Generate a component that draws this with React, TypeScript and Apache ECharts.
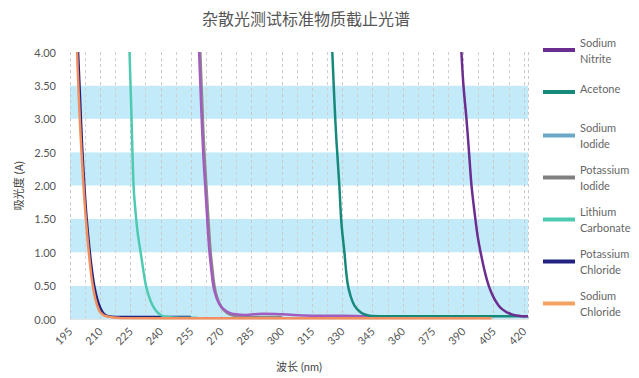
import React, { useEffect, useRef } from "react";
import * as echarts from "echarts";

const TITLE = "杂散光测试标准物质截止光谱";
const X_NAME = "波长 (nm)";
const Y_NAME = "吸光度 (A)";

const seriesNames = [
  "Sodium Nitrite",
  "Acetone",
  "Sodium Iodide",
  "Potassium Iodide",
  "Lithium Carbonate",
  "Potassium Chloride",
  "Sodium Chloride",
];

// wavelengths (nm) and absorbance (A) per series
const nitriteX = [389, 390, 391.5, 393, 394, 395.5, 397, 398.5, 400.5, 402.5, 405, 407.5, 409.5, 411.5, 414, 417, 420, 422];
const nitriteY = [4.0, 3.5, 3.0, 2.4, 2.0, 1.6, 1.25, 1.0, 0.72, 0.5, 0.32, 0.2, 0.14, 0.1, 0.07, 0.05, 0.04, 0.04];

const acetoneX = [325, 326, 327, 328.5, 329.5, 331, 332.5, 334, 336, 339, 342, 345, 360, 400, 422];
const acetoneY = [4.0, 3.3, 2.7, 2.0, 1.45, 1.0, 0.55, 0.35, 0.2, 0.1, 0.06, 0.045, 0.04, 0.04, 0.04];

const naIodideX = [259, 260, 261, 262, 263, 264, 265, 266, 267, 268, 269.5, 271, 273.5, 277, 282, 290, 300, 315, 330, 345];
const naIodideY = [4.0, 3.2, 2.5, 2.0, 1.5, 1.05, 0.75, 0.5, 0.38, 0.29, 0.2, 0.15, 0.1, 0.07, 0.06, 0.08, 0.07, 0.05, 0.05, 0.04];

const kIodideX = [259.6, 260.6, 261.6, 262.6, 263.6, 264.6, 265.6, 266.6, 267.6, 269, 271, 274, 280, 300];
const kIodideY = [4.0, 3.2, 2.5, 2.0, 1.5, 1.05, 0.75, 0.5, 0.36, 0.24, 0.14, 0.07, 0.03, 0.03];

const lithiumX = [224.5, 225.5, 226.5, 227.5, 228.5, 230, 231, 232.5, 234, 236, 238, 240, 243, 250, 258];
const lithiumY = [4.0, 3.0, 2.0, 1.6, 1.3, 1.0, 0.8, 0.52, 0.35, 0.2, 0.11, 0.06, 0.03, 0.02, 0.02];

const kChlorideX = [199, 200, 201, 202, 203, 204, 205, 206, 207, 208, 209, 210, 211, 212, 214, 218, 230, 255];
const kChlorideY = [4.0, 3.3, 2.6, 2.05, 1.6, 1.25, 0.95, 0.7, 0.5, 0.36, 0.25, 0.17, 0.11, 0.07, 0.04, 0.03, 0.03, 0.03];

const naChlorideX = [198.5, 199, 200, 201, 202, 203, 204, 205, 206, 207, 208, 209, 210, 212, 215, 220, 260, 330, 404];
const naChlorideY = [4.0, 3.6, 2.9, 2.35, 1.85, 1.45, 1.1, 0.8, 0.55, 0.38, 0.25, 0.16, 0.1, 0.05, 0.03, 0.015, 0.01, 0.01, 0.01];

const xTicks = [195, 210, 225, 240, 255, 270, 285, 300, 315, 330, 345, 360, 375, 390, 405, 420];

const lineColors = ["#6b2d8f", "#17897a", "#a25cbd", "#8a8a8a", "#4fcab2", "#222280", "#f28f5f"];
const legendColors = ["#6b2d8f", "#17897a", "#6aa8c8", "#808080", "#4fcab2", "#222280", "#f4a261"];

const seriesX = [nitriteX, acetoneX, naIodideX, kIodideX, lithiumX, kChlorideX, naChlorideX];
const seriesY = [nitriteY, acetoneY, naIodideY, kIodideY, lithiumY, kChlorideY, naChlorideY];
const seriesZ = [7, 6, 5, 4, 3, 2, 8];

const LATIN = "Lato, 'Noto Sans CJK SC', sans-serif";

export default function App() {
  const ref = useRef<HTMLDivElement>(null);
  useEffect(() => {
    document.body.style.margin = "0";
    const chart = echarts.init(ref.current!, undefined, { renderer: "svg" });
    const series = seriesNames.map((name, i) => ({
      name,
      type: "line",
      smooth: 0.4,
      symbol: "none",
      z: seriesZ[i],
      data: seriesX[i].map((x, j) => [x, seriesY[i][j]]),
      lineStyle: { width: 2.5, color: lineColors[i] },
      itemStyle: { color: lineColors[i] },
    }));
    chart.setOption({
      animation: false,
      backgroundColor: "#ffffff",
      title: {
        text: TITLE,
        left: 197,
        top: 5,
        textStyle: {
          fontFamily: "'Noto Sans CJK SC', sans-serif",
          fontSize: 16,
          fontWeight: "normal",
          color: "#555",
        },
      },
      legend: {
        orient: "vertical",
        left: 543,
        top: 34,
        padding: 0,
        itemWidth: 32,
        itemHeight: 4,
        itemGap: 10,
        data: seriesNames.map((name, i) => ({
          name,
          icon: "rect",
          itemStyle: { color: legendColors[i] },
        })),
        formatter: (name: string) =>
          name === "Acetone" ? "{one|Acetone}\n{sp| }" : name.replace(" ", "\n"),
        textStyle: {
          fontFamily: LATIN,
          fontSize: 11,
          lineHeight: 16,
          color: "#666",
          rich: {
            one: { fontFamily: LATIN, fontSize: 11, lineHeight: 24, color: "#666" },
            sp: { fontFamily: LATIN, fontSize: 11, lineHeight: 8, color: "#666" },
          },
        },
      },
      grid: { left: 70, right: 111, top: 52, bottom: 59, containLabel: false },
      xAxis: {
        type: "value",
        min: 195,
        max: 422,
        interval: 15,
        name: X_NAME,
        nameLocation: "middle",
        nameGap: 42,
        nameTextStyle: { fontFamily: LATIN, fontSize: 11, color: "#444" },
        axisLine: { show: true, lineStyle: { color: "#e4e4e4" } },
        axisTick: { show: false },
        axisLabel: {
          rotate: 45,
          margin: 10,
          fontFamily: LATIN,
          fontSize: 11,
          color: "#555",
          showMaxLabel: false,
          formatter: (v: number) => (xTicks.includes(v) ? String(v) : ""),
        },
        splitLine: { show: true, lineStyle: { type: [3, 3], color: "#c8c8c8", width: 1 } },
        minorTick: { show: false, splitNumber: 2 },
        minorSplitLine: { show: true, lineStyle: { type: [3, 3], color: "#d0d0d0", width: 1 } },
      },
      yAxis: {
        type: "value",
        min: 0,
        max: 4,
        interval: 0.5,
        name: Y_NAME,
        nameLocation: "middle",
        nameGap: 46,
        nameRotate: 90,
        nameTextStyle: { fontFamily: "'Noto Sans CJK SC', sans-serif", fontSize: 11, color: "#444" },
        axisLine: { show: false },
        axisTick: { show: false },
        axisLabel: {
          margin: 14,
          fontFamily: LATIN,
          fontSize: 11,
          color: "#555",
          formatter: (v: number) => v.toFixed(2),
        },
        splitLine: { show: false },
        splitArea: { show: true, areaStyle: { color: ["#c2eaf8", "#ffffff"] } },
      },
      series,
    });
    return () => chart.dispose();
  }, []);
  return (
    <div
      ref={ref}
      style={{ position: "fixed", left: 0, top: 0, width: 639, height: 378 }}
    />
  );
}
